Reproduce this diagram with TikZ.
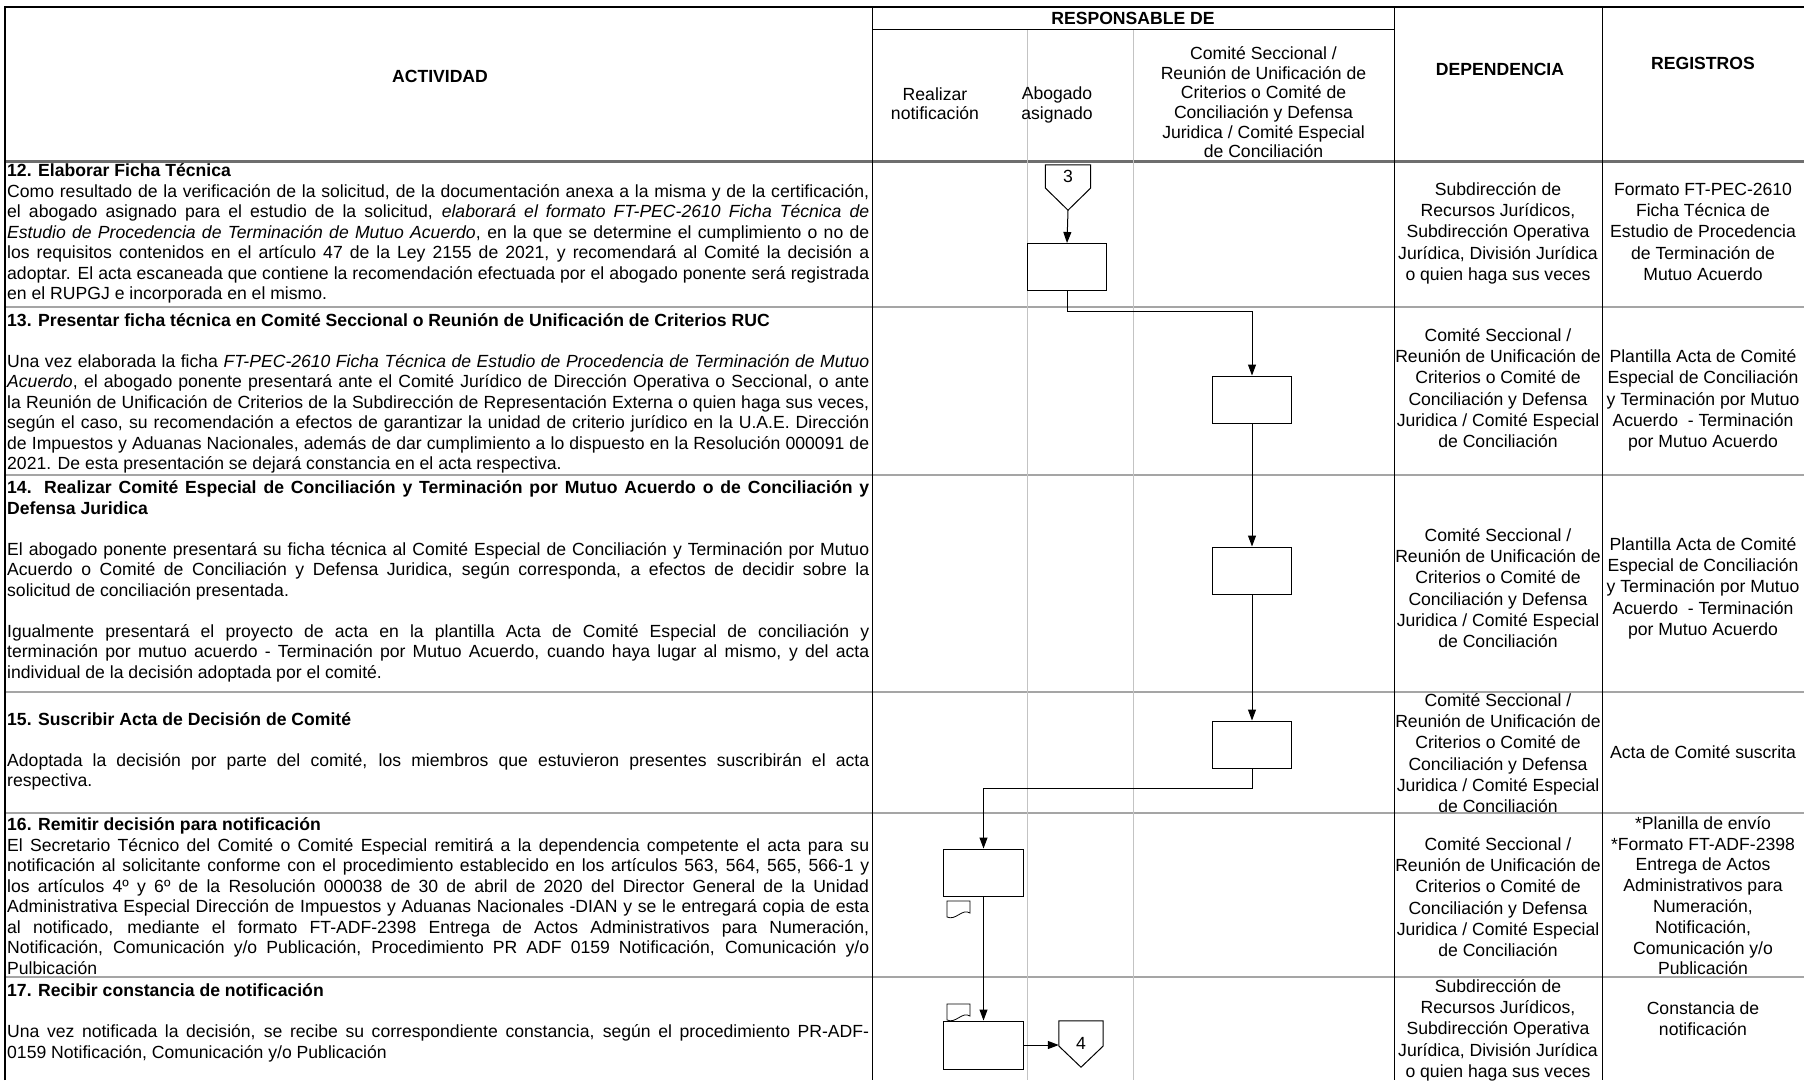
\documentclass[tikz,border=0pt]{standalone}
\usepackage{fontspec}
\setmainfont{Liberation Sans}
\usetikzlibrary{arrows.meta}
\definecolor{rowc}{RGB}{165,165,165}
\definecolor{hdrc}{RGB}{110,110,110}
\definecolor{lanec}{RGB}{195,195,195}
\newcommand\fsa{\fontsize{17.6pt}{20.5pt}\selectfont}
\newcommand\fsr{\fontsize{17.6pt}{21.2pt}\selectfont}
\newcommand\fsh{\fontsize{17.6pt}{19.6pt}\selectfont}
\newcommand\st{\rule{0pt}{16pt}}
\newcommand\J[1]{\makebox[862pt][s]{#1}}
\begin{document}
\begin{tikzpicture}[x=1pt,y=-1pt,
  actbox/.style={draw, fill=white, line width=1pt, inner sep=0pt, minimum width=79.5pt, minimum height=47pt},
  arr/.style={line width=1pt, -{Triangle[length=11pt,width=8pt]}},
  atxt/.style={anchor=north west, inner sep=0pt, align=left, font=\fsa},
  rtxt/.style={anchor=north, inner sep=0pt, align=center, font=\fsr},
  htxt/.style={anchor=north, inner sep=0pt, align=center, font=\fsh},
  hb/.style={inner sep=0pt, font=\fsa\bfseries},
  conn/.style={inner sep=0pt, minimum width=45pt, minimum height=45pt},
  docst/.style={draw, fill=white, line width=0.8pt},
]
\fill[white] (0,0) rectangle (1804,1080);
\useasboundingbox (0,0) rectangle (1804,1080);

% grid
\foreach \yy in {307,475,692,813,977} \draw[rowc, line width=1.6pt] (5,\yy) -- (1804,\yy);
\draw[hdrc, line width=2.2pt] (5,161.5) -- (1804,161.5);
\draw[lanec, line width=0.7pt] (1027,29) -- (1027,1080) (1133,29) -- (1133,1080);
\draw[black, line width=1pt] (872,7) -- (872,1080) (1394.6,7) -- (1394.6,1080) (1602,7) -- (1602,1080) (872,29) -- (1394.6,29);
\draw[black, line width=1.3pt] (5,1080) -- (5,7) -- (1804,7);

% header
\node[hb] (hact) at (440,76.5) {ACTIVIDAD};
\node[hb] (hresp) at (1133,18) {RESPONSABLE DE};
\node[hb] (hdep) at (1500,69.5) {DEPENDENCIA};
\node[hb] (hreg) at (1703,63) {REGISTROS};
\node[htxt] (hnot) at (935,84) {\st Realizar\\notificación};
\node[htxt] (habo) at (1057,83.5) {\st Abogado\\asignado};
\node[htxt] (hcom) at (1263.5,43.5) {\st Comité Seccional /\\Reunión de Unificación de\\Criterios o Comité de\\Conciliación y Defensa\\Juridica / Comité Especial\\de Conciliación};

% activity texts
\node[atxt] (t12) at (7,160.3) {\st\textbf{12. Elaborar Ficha Técnica}\\
\J{Como resultado de la verificación de la solicitud, de la documentación anexa a la misma y de la certificación,}\\
\J{el abogado asignado para el estudio de la solicitud, \textit{elaborará el formato FT-PEC-2610 Ficha Técnica de}}\\
\J{\textit{Estudio de Procedencia de Terminación de Mutuo Acuerdo}, en la que se determine el cumplimiento o no de}\\
\J{los requisitos contenidos en el artículo 47 de la Ley 2155 de 2021, y recomendará al Comité la decisión a}\\
\J{adoptar. El acta escaneada que contiene la recomendación efectuada por el abogado ponente será registrada}\\
en el RUPGJ e incorporada en el mismo.};

\node[atxt] (t13) at (7,309.8) {\st\textbf{13. Presentar ficha técnica en Comité Seccional o Reunión de Unificación de Criterios RUC}\\[20.5pt]
\J{Una vez elaborada la ficha \textit{FT-PEC-2610 Ficha Técnica de Estudio de Procedencia de Terminación de Mutuo}}\\
\J{\textit{Acuerdo}, el abogado ponente presentará ante el Comité Jurídico de Dirección Operativa o Seccional, o ante}\\
\J{la Reunión de Unificación de Criterios de la Subdirección de Representación Externa o quien haga sus veces,}\\
\J{según el caso, su recomendación a efectos de garantizar la unidad de criterio jurídico en la U.A.E. Dirección}\\
\J{de Impuestos y Aduanas Nacionales, además de dar cumplimiento a lo dispuesto en la Resolución 000091 de}\\
2021. De esta presentación se dejará constancia en el acta respectiva.};

\node[atxt] (t14) at (7,477.3) {\st\J{\textbf{14. Realizar Comité Especial de Conciliación y Terminación por Mutuo Acuerdo o de Conciliación y}}\\
\textbf{Defensa Juridica}\\[20.5pt]
\J{El abogado ponente presentará su ficha técnica al Comité Especial de Conciliación y Terminación por Mutuo}\\
\J{Acuerdo o Comité de Conciliación y Defensa Juridica, según corresponda, a efectos de decidir sobre la}\\
solicitud de conciliación presentada.\\[20.5pt]
\J{Igualmente presentará el proyecto de acta en la plantilla Acta de Comité Especial de conciliación y}\\
\J{terminación por mutuo acuerdo - Terminación por Mutuo Acuerdo, cuando haya lugar al mismo, y del acta}\\
individual de la decisión adoptada por el comité.};

\node[atxt] (t15) at (7,709) {\st\textbf{15. Suscribir Acta de Decisión de Comité}\\[20.5pt]
\J{Adoptada la decisión por parte del comité, los miembros que estuvieron presentes suscribirán el acta}\\
respectiva.};

\node[atxt] (t16) at (7,814.3) {\st\textbf{16. Remitir decisión para notificación}\\
\J{El Secretario Técnico del Comité o Comité Especial remitirá a la dependencia competente el acta para su}\\
\J{notificación al solicitante conforme con el procedimiento establecido en los artículos 563, 564, 565, 566-1 y}\\
\J{los artículos 4º y 6º de la Resolución 000038 de 30 de abril de 2020 del Director General de la Unidad}\\
\J{Administrativa Especial Dirección de Impuestos y Aduanas Nacionales -DIAN y se le entregará copia de esta}\\
\J{al notificado, mediante el formato FT-ADF-2398 Entrega de Actos Administrativos para Numeración,}\\
\J{Notificación, Comunicación y/o Publicación, Procedimiento PR ADF 0159 Notificación, Comunicación y/o}\\
Pulbicación};

\node[atxt] (t17) at (7,980.3) {\st\textbf{17. Recibir constancia de notificación}\\[20.5pt]
\J{Una vez notificada la decisión, se recibe su correspondiente constancia, según el procedimiento PR-ADF-}\\
0159 Notificación, Comunicación y/o Publicación};

% dependencia / registros
\node[rtxt] (d12) at (1498,179.3) {\st Subdirección de\\Recursos Jurídicos,\\Subdirección Operativa\\Jurídica, División Jurídica\\o quien haga sus veces};
\node[rtxt] (r12) at (1703,179.3) {\st Formato FT-PEC-2610\\Ficha Técnica de\\Estudio de Procedencia\\de Terminación de\\Mutuo Acuerdo};

\node[rtxt] (d13) at (1498,325.3) {\st Comité Seccional /\\Reunión de Unificación de\\Criterios o Comité de\\Conciliación y Defensa\\Juridica / Comité Especial\\de Conciliación};
\node[rtxt] (r13) at (1703,346.5) {\st Plantilla Acta de Comité\\Especial de Conciliación\\y Terminación por Mutuo\\Acuerdo\ \ - Terminación\\por Mutuo Acuerdo};

\node[rtxt] (d14) at (1498,525.3) {\st Comité Seccional /\\Reunión de Unificación de\\Criterios o Comité de\\Conciliación y Defensa\\Juridica / Comité Especial\\de Conciliación};
\node[rtxt] (r14) at (1703,534.3) {\st Plantilla Acta de Comité\\Especial de Conciliación\\y Terminación por Mutuo\\Acuerdo\ \ - Terminación\\por Mutuo Acuerdo};

\node[rtxt] (d15) at (1498,690.3) {\st Comité Seccional /\\Reunión de Unificación de\\Criterios o Comité de\\Conciliación y Defensa\\Juridica / Comité Especial\\de Conciliación};
\node[rtxt] (r15) at (1703,742.3) {\st Acta de Comité suscrita};

\node[rtxt] (d16) at (1498,834.3) {\st Comité Seccional /\\Reunión de Unificación de\\Criterios o Comité de\\Conciliación y Defensa\\Juridica / Comité Especial\\de Conciliación};
\node[rtxt, font=\fontsize{17.6pt}{20.8pt}\selectfont] (r16) at (1703,813) {\st *Planilla de envío\\*Formato FT-ADF-2398\\Entrega de Actos\\Administrativos para\\Numeración,\\Notificación,\\Comunicación y/o\\Publicación};

\node[rtxt] (d17) at (1498,976.3) {\st Subdirección de\\Recursos Jurídicos,\\Subdirección Operativa\\Jurídica, División Jurídica\\o quien haga sus veces};
\node[rtxt] (r17) at (1703,998.3) {\st Constancia de\\notificación};

% flow shapes
\node[conn] (c3) at (1068,187.5) {};
\draw[line width=1pt, fill=white] (c3.north west) -- (c3.north east) -- ([yshift=-0.5pt]c3.east) -- (c3.south) -- ([yshift=-0.5pt]c3.west) -- cycle;
\node[font=\fsa, inner sep=0pt] (n3) at (1068,176) {3};

\node[actbox] (b1) at (1067,267) {};
\node[actbox] (b2) at (1252,399.5) {};
\node[actbox] (b3) at (1252,570.5) {};
\node[actbox] (b4) at (1252,744.5) {};
\node[actbox] (b5) at (983.5,872.5) {};
\node[actbox, minimum height=48pt] (b6) at (983.5,1045) {};

\node[conn, minimum width=44pt, minimum height=46pt] (c4) at (1081,1044) {};
\draw[line width=1pt, fill=white] (c4.north west) -- (c4.north east) -- ([yshift=-2pt]c4.east) -- (c4.south) -- ([yshift=-2pt]c4.west) -- cycle;
\node[font=\fsa, inner sep=0pt] (n4) at (1081,1043) {4};

\draw[docst] (947,901) -- (970,901) -- (970,913) .. controls (962,908) and (956,921) .. (947,917) -- cycle;
\draw[docst] (947,1004) -- (970,1004) -- (970,1016) .. controls (962,1011) and (956,1024) .. (947,1020) -- cycle;

\draw[arr] (c3.south) -- (b1.north);
\draw[arr] (b1.south) -- ++(0,20) -| (b2.north);
\draw[arr] (b2.south) -- (b3.north);
\draw[arr] (b3.south) -- (b4.north);
\draw[arr] (b4.south) -- ++(0,19.5) -| (b5.north);
\draw[arr] (b5.south) -- (b6.north);
\draw[arr] (b6.east) -- (b6.east -| c4.west);
\end{tikzpicture}
\end{document}
